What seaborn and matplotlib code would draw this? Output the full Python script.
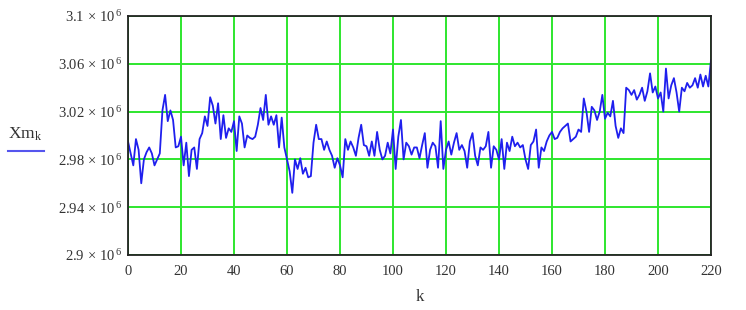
import numpy as np
import pandas as pd
import matplotlib
matplotlib.use("Agg")
import matplotlib.pyplot as plt
from matplotlib.lines import Line2D
from matplotlib.ticker import FixedLocator, FuncFormatter
import seaborn as sns

# Xm_k values in units of 1e6 (k = 0..220)
xm_millions = [
    2.995, 2.985, 2.975, 2.997, 2.988, 2.960, 2.980, 2.986, 2.990, 2.985,
    2.975, 2.980, 2.985, 3.021, 3.034, 3.012, 3.021, 3.013, 2.990, 2.991,
    2.999, 2.975, 2.994, 2.966, 2.988, 2.990, 2.972, 2.997, 3.002, 3.016,
    3.008, 3.032, 3.025, 3.010, 3.027, 2.997, 3.017, 2.998, 3.006, 3.003,
    3.012, 2.987, 3.016, 3.010, 2.990, 3.000, 2.998, 2.997, 2.999, 3.009,
    3.023, 3.013, 3.034, 3.009, 3.016, 3.009, 3.017, 2.990, 3.015, 2.990,
    2.980, 2.970, 2.952, 2.980, 2.972, 2.981, 2.968, 2.973, 2.965, 2.966,
    2.994, 3.009, 2.997, 2.997, 2.988, 2.995, 2.988, 2.983, 2.973, 2.981,
    2.975, 2.965, 2.997, 2.988, 2.995, 2.990, 2.983, 2.998, 3.009, 2.992,
    2.991, 2.983, 2.995, 2.983, 3.003, 2.988, 2.980, 2.983, 2.994, 2.985,
    3.005, 2.972, 2.999, 3.013, 2.980, 2.994, 2.991, 2.984, 2.990, 2.990,
    2.981, 2.992, 3.002, 2.973, 2.988, 2.994, 2.991, 2.973, 3.012, 2.972,
    2.988, 2.995, 2.984, 2.994, 3.002, 2.988, 2.992, 2.987, 2.973, 2.995,
    3.002, 2.983, 2.975, 2.990, 2.988, 2.991, 3.003, 2.973, 2.991, 2.988,
    2.980, 2.997, 2.972, 2.994, 2.987, 2.999, 2.991, 2.994, 2.990, 2.992,
    2.980, 2.972, 2.992, 2.995, 3.005, 2.973, 2.990, 2.987, 2.995, 3.000,
    3.003, 2.997, 2.998, 3.003, 3.006, 3.008, 3.010, 2.995, 2.997, 2.999,
    3.005, 3.003, 3.031, 3.020, 3.003, 3.024, 3.021, 3.013, 3.020, 3.034,
    3.014, 3.019, 3.016, 3.029, 3.008, 2.998, 3.006, 3.002, 3.040, 3.038,
    3.034, 3.038, 3.030, 3.034, 3.040, 3.029, 3.037, 3.052, 3.036, 3.041,
    3.031, 3.036, 3.020, 3.056, 3.031, 3.042, 3.048, 3.036, 3.020, 3.040,
    3.037, 3.044, 3.040, 3.042, 3.048, 3.040, 3.051, 3.041, 3.050, 3.041,
    3.063,
]
k_values = list(range(len(xm_millions)))

x_ticks = [0, 20, 40, 60, 80, 100, 120, 140, 160, 180, 200, 220]
y_ticks = [2.90, 2.94, 2.98, 3.02, 3.06, 3.10]
y_tick_text = ["2.9", "2.94", "2.98", "3.02", "3.06", "3.1"]

df = pd.DataFrame({"k": k_values, "Xm": xm_millions})

plt.rcParams["font.family"] = ["Liberation Serif", "DejaVu Serif"]
plt.rcParams["mathtext.fontset"] = "custom"
plt.rcParams["mathtext.rm"] = "Liberation Serif"
plt.rcParams["mathtext.it"] = "Liberation Serif:italic"

fig = plt.figure(figsize=(7.46, 3.10), dpi=100)
ax = fig.add_axes([128 / 746, 1 - 255 / 310, (711 - 128) / 746, (255 - 16) / 310])

sns.lineplot(data=df, x="k", y="Xm", ax=ax, color="#1f1fee", linewidth=1.3)

ax.set_xlim(0, 220)
ax.set_ylim(2.90, 3.10)
ax.xaxis.set_major_locator(FixedLocator(x_ticks))
ax.yaxis.set_major_locator(FixedLocator(y_ticks))
lookup = dict(zip(y_ticks, y_tick_text))
ax.yaxis.set_major_formatter(FuncFormatter(
    lambda v, p: lookup.get(round(v, 2), "") + r"$\,\times\,$10$^{\,6}$"))

ax.grid(True, color="#2ee62e", linewidth=1.4)
ax.set_axisbelow(True)
ax.tick_params(axis="y", length=0, labelsize=10.5, colors="#333333", pad=4)
ax.tick_params(axis="x", length=0, labelsize=10.5, colors="#333333", pad=7)
for s in ax.spines.values():
    s.set_color("#222222")
    s.set_linewidth(1.3)

ax.set_xlabel("k", fontsize=12, color="#333333", labelpad=8)
ax.set_ylabel("")

# legend-like label on the left
fig.text(25 / 746, 1 - 134 / 310, r"Xm$_{\rm k}$", fontsize=12.5, color="#333333",
         ha="center", va="center")
fig.add_artist(Line2D([8 / 746, 44 / 746], [1 - 151 / 310, 1 - 151 / 310],
                      color="#5555ee", linewidth=1.5))

fig.savefig("out.png", dpi=100)
